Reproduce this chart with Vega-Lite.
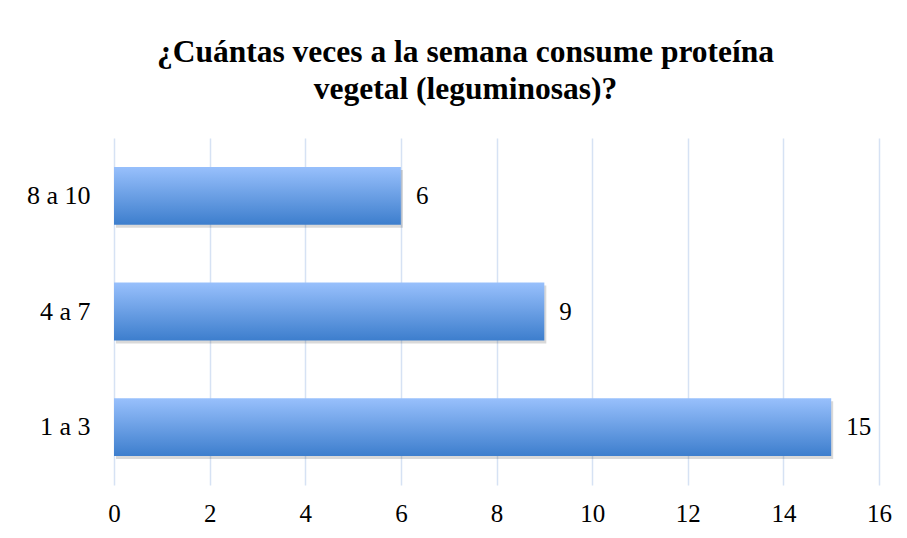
{
  "$schema": "https://vega.github.io/schema/vega-lite/v6.json",
  "width": 765,
  "height": 347,
  "autosize": {"type": "none"},
  "padding": {"left": 114, "top": 138, "right": 28, "bottom": 53},
  "background": "white",
  "title": {
    "text": ["¿Cuántas veces a la semana consume proteína", "vegetal (leguminosas)?"],
    "font": "Liberation Serif",
    "fontSize": 31.5,
    "fontWeight": "bold",
    "color": "black",
    "anchor": "middle",
    "dx": -31,
    "offset": 33,
    "lineHeight": 37
  },
  "data": {
    "values": [
      {"categoria": "8 a 10", "valor": 6},
      {"categoria": "4 a 7", "valor": 9},
      {"categoria": "1 a 3", "valor": 15}
    ]
  },
  "encoding": {
    "y": {
      "field": "categoria",
      "type": "nominal",
      "sort": ["8 a 10", "4 a 7", "1 a 3"],
      "scale": {"paddingInner": 0.5, "paddingOuter": 0.25},
      "axis": {
        "title": null,
        "domain": false,
        "ticks": false,
        "labelFont": "Liberation Serif",
        "labelFontSize": 26,
        "labelColor": "black",
        "labelPadding": 24
      }
    },
    "x": {
      "field": "valor",
      "type": "quantitative",
      "scale": {"domain": [0, 16], "nice": false},
      "axis": {
        "title": null,
        "values": [0, 2, 4, 6, 8, 10, 12, 14, 16],
        "domain": false,
        "ticks": false,
        "grid": true,
        "gridColor": "#D6E2F4",
        "gridWidth": 1.5,
        "labelFlush": false,
        "labelFont": "Liberation Serif",
        "labelFontSize": 25,
        "labelColor": "black",
        "labelPadding": 16
      }
    }
  },
  "layer": [
    {
      "mark": {"type": "bar", "color": "#000000", "opacity": 0.15, "xOffset": 2, "yOffset": 3}
    },
    {
      "mark": {
        "type": "bar",
        "color": {
          "gradient": "linear",
          "x1": 0, "y1": 0, "x2": 0, "y2": 1,
          "stops": [
            {"offset": 0, "color": "#98C0FC"},
            {"offset": 1, "color": "#3D7ECD"}
          ]
        }
      }
    },
    {
      "mark": {
        "type": "text",
        "align": "left",
        "dx": 15,
        "font": "Liberation Serif",
        "fontSize": 25,
        "color": "black"
      },
      "encoding": {"text": {"field": "valor", "type": "quantitative"}}
    }
  ],
  "config": {"view": {"stroke": null}}
}
